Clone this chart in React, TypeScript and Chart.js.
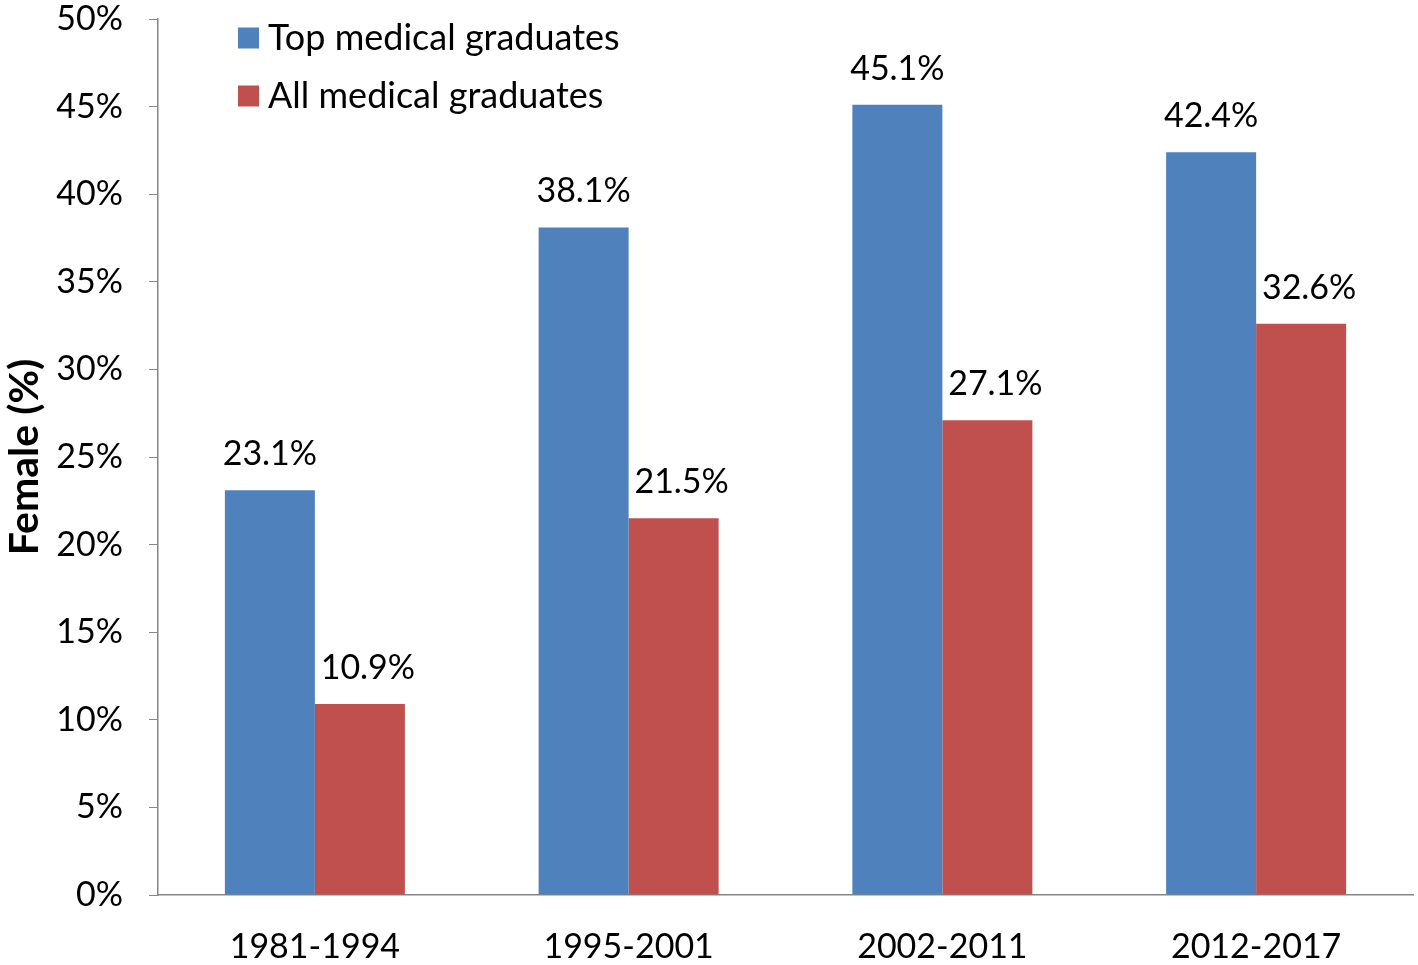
import React, { useEffect, useRef } from "react";
import { Chart, registerables } from "chart.js";

Chart.register(...registerables);

const categories = ["1981-1994", "1995-2001", "2002-2011", "2012-2017"];
const topGraduates = [23.1, 38.1, 45.1, 42.4];
const allGraduates = [10.9, 21.5, 27.1, 32.6];
const seriesNames = ["Top medical graduates", "All medical graduates"];
const seriesColors = ["#4F81BD", "#C0504D"];
const yTicksMax = 50;
const yTicksStep = 5;

const FONT = "Lato, 'Open Sans', sans-serif";

const labelPlugin = {
  id: "barLabels",
  afterDatasetsDraw(chart: any) {
    const ctx = chart.ctx;
    ctx.save();
    ctx.font = `34px ${FONT}`;
    ctx.fillStyle = "#000";
    ctx.textAlign = "center";
    ctx.textBaseline = "alphabetic";
    chart.data.datasets.forEach((ds: any, di: number) => {
      const meta = chart.getDatasetMeta(di);
      const shift = di === 1 ? 8 : 0;
      meta.data.forEach((bar: any, i: number) => {
        ctx.fillText(ds.data[i].toFixed(1) + "%", bar.x + shift, bar.y - 25);
      });
    });
    ctx.restore();
  },
};

const legendPlugin = {
  id: "innerLegend",
  afterDraw(chart: any) {
    const ctx = chart.ctx;
    const { left, top } = chart.chartArea;
    ctx.save();
    ctx.font = `36px ${FONT}`;
    ctx.textBaseline = "middle";
    ctx.textAlign = "left";
    chart.data.datasets.forEach((ds: any, di: number) => {
      const cy = top + 19 + di * 58;
      ctx.fillStyle = ds.backgroundColor;
      ctx.fillRect(left + 80, cy - 10.5, 21, 21);
      ctx.fillStyle = "#000";
      ctx.fillText(ds.label, left + 110, cy);
    });
    ctx.restore();
  },
};

export default function App() {
  const canvasRef = useRef<HTMLCanvasElement>(null);

  useEffect(() => {
    if (!canvasRef.current) return;
    const chart = new Chart(canvasRef.current, {
      type: "bar",
      data: {
        labels: categories,
        datasets: [
          { label: seriesNames[0], data: topGraduates, backgroundColor: seriesColors[0] },
          { label: seriesNames[1], data: allGraduates, backgroundColor: seriesColors[1] },
        ],
      },
      options: {
        animation: false,
        responsive: false,
        maintainAspectRatio: false,
        layout: { padding: { top: 19, right: 5, left: 0, bottom: 0 } },
        plugins: {
          legend: { display: false },
          tooltip: { enabled: false },
        },
        datasets: {
          bar: { categoryPercentage: 0.5737, barPercentage: 1 },
        },
        scales: {
          x: {
            grid: { display: false, drawTicks: false },
            border: { display: true, color: "#868686", width: 1.5 },
            ticks: {
              color: "#000",
              font: { family: FONT, size: 34 },
              padding: 32,
            },
            afterFit(scale: any) {
              scale.height = 70;
              scale.paddingLeft = 0;
              scale.paddingRight = 0;
            },
          },
          y: {
            min: 0,
            max: yTicksMax,
            grid: {
              display: true,
              drawOnChartArea: false,
              drawTicks: true,
              tickLength: 9,
              color: "#868686",
            },
            border: { display: true, color: "#868686", width: 1.5 },
            ticks: {
              stepSize: yTicksStep,
              color: "#000",
              font: { family: FONT, size: 34 },
              padding: 26,
              callback: (v: any) => v + "%",
            },
            title: {
              display: true,
              text: "Female (%)",
              color: "#000",
              font: { family: FONT, size: 41, weight: "bold" },
              padding: { top: 0, bottom: 0 },
            },
            afterFit(scale: any) {
              scale.width = 158;
              scale.paddingTop = 0;
              scale.paddingBottom = 0;
            },
          },
        },
      },
      plugins: [labelPlugin, legendPlugin],
    });
    return () => chart.destroy();
  }, []);

  return (
    <div style={{ position: "absolute", left: 0, top: 0, width: 1418, height: 965, background: "#fff" }}>
      <canvas ref={canvasRef} width={1418} height={965} style={{ width: 1418, height: 965 }} />
    </div>
  );
}
